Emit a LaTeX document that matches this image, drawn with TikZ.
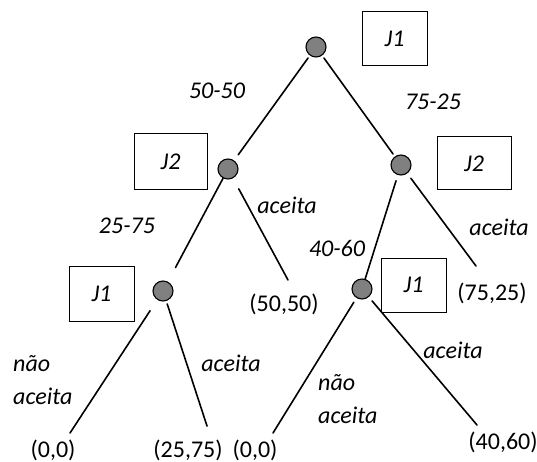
\documentclass[tikz,border=0pt]{standalone}
\usepackage{fontspec}
\setmainfont{Carlito}
\begin{document}
\begin{tikzpicture}[x=1pt,y=-1pt,
  dec/.style={circle,draw=black,line width=1.1pt,fill=black!50,minimum size=20pt,inner sep=0pt},
  plbox/.style={draw=black,line width=1pt,inner sep=0pt,font=\fontsize{24}{28}\selectfont\itshape},
  lab/.style={inner sep=0pt,font=\fontsize{24}{33}\selectfont\itshape},
  pay/.style={inner sep=0pt,font=\fontsize{24}{28}\selectfont},
  edge/.style={line width=1.6pt,line cap=round}]
\useasboundingbox (0,0) rectangle (537,462);
% decision nodes
\node[dec] (root) at (316,47) {};
\node[dec] (j2l) at (228,169) {};
\node[dec] (j2r) at (401,165) {};
\node[dec] (j1l) at (163,291) {};
\node[dec] (j1r) at (362,289) {};
% player boxes
\node[plbox,minimum width=65pt,minimum height=54pt] (b1) at (394.5,39) {J1};
\node[plbox,minimum width=73pt,minimum height=56pt] (b2) at (170.5,162) {J2};
\node[plbox,minimum width=74pt,minimum height=53pt] (b3) at (474,163.5) {J2};
\node[plbox,minimum width=65pt,minimum height=55pt] (b4) at (101.5,293.5) {J1};
\node[plbox,minimum width=65pt,minimum height=54pt] (b5) at (413.5,285) {J1};
% payoffs
\node[pay] (p1) at (284,304) {(50,50)};
\node[pay] (p2) at (492,293) {(75,25)};
\node[pay] (p3) at (53,450) {(0,0)};
\node[pay] (p4) at (188,450) {(25,75)};
\node[pay] (p5) at (255,450) {(0,0)};
\node[pay] (p6) at (503,442) {(40,60)};
% line ends above payoffs
\coordinate (e1) at (288,280);
\coordinate (e2) at (476,266);
\coordinate (e3) at (70,433);
\coordinate (e4) at (207,426);
\coordinate (e5) at (273,433);
\coordinate (e6) at (477,425);
% edges
\draw[edge,shorten <=3pt,shorten >=7pt] (root) -- (j2l);
\draw[edge,shorten <=3pt,shorten >=3pt] (root) -- (j2r);
\draw[edge,shorten <=0pt,shorten >=16pt] (j2l) -- (j1l);
\draw[edge,shorten <=12pt] (j2l) -- (e1);
\draw[edge,shorten <=6pt,shorten >=0pt] (j2r) -- (j1r);
\draw[edge,shorten <=6pt] (j2r) -- (e2);
\draw[edge,shorten <=13pt] (j1l) -- (e3);
\draw[edge,shorten <=3pt] (j1l) -- (e4);
\draw[edge,shorten <=5pt] (j1r) -- (e5);
\draw[edge,shorten <=5pt] (j1r) -- (e6);
% labels
\node[lab] (l1) at (217,91) {50-50};
\node[lab] (l2) at (433,102) {75-25};
\node[lab] (l3) at (287,205) {aceita};
\node[lab] (l4) at (127,226) {25-75};
\node[lab] (l5) at (337,248) {40-60};
\node[lab] (l6) at (499,227) {aceita};
\node[lab] (l7) at (231,363) {aceita};
\node[lab] (l8) at (453,350) {aceita};
\node[lab,anchor=west,align=left] (l9) at (13,380) {não\\aceita};
\node[lab,anchor=west,align=left] (l10) at (318,399.5) {não\\aceita};
\end{tikzpicture}
\end{document}
